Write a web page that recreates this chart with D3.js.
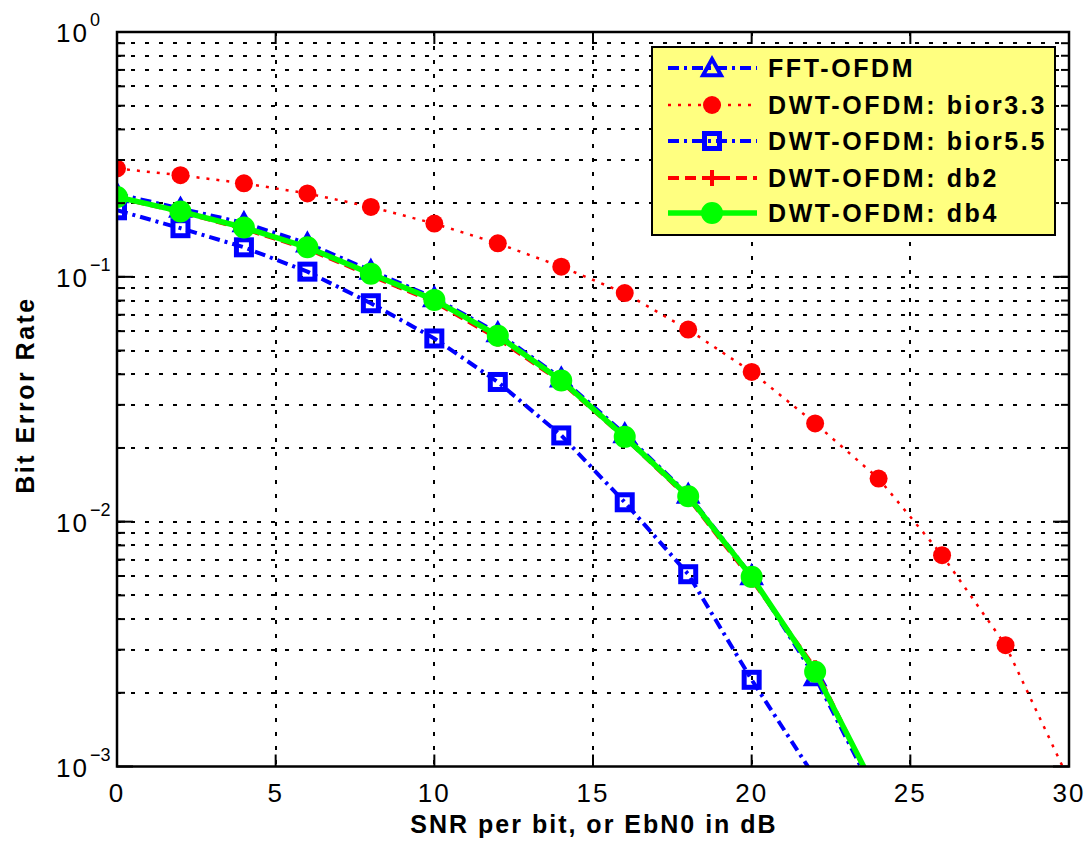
<!DOCTYPE html>
<html>
<head>
<meta charset="utf-8">
<script src="https://cdn.jsdelivr.net/npm/d3@7"></script>
<style>
  html, body { margin: 0; padding: 0; background: #fff; }
  svg { display: block; font-family: "Liberation Sans", Arial, Helvetica, sans-serif; }
</style>
</head>
<body>
<svg id="chart" width="1091" height="841"></svg>
<script>
// ---- data ----
const snr = [0, 2, 4, 6, 8, 10, 12, 14, 16, 18, 20, 22, 24, 26, 28, 30];
const fftOfdm   = [0.218, 0.190, 0.166, 0.137, 0.106, 0.082, 0.059, 0.0385, 0.0228, 0.0129, 0.0060, 0.00232, 0.00072];
const bior33    = [0.277, 0.260, 0.241, 0.219, 0.193, 0.165, 0.137, 0.110, 0.0858, 0.0609, 0.0409, 0.0252, 0.0150, 0.0073, 0.00313, 0.00088];
const bior55    = [0.187, 0.158, 0.132, 0.105, 0.078, 0.056, 0.0372, 0.0225, 0.0120, 0.0061, 0.00226, 0.00090];
const db2       = [0.211, 0.184, 0.157, 0.130, 0.101, 0.079, 0.056, 0.0372, 0.0220, 0.0125, 0.0058, 0.00252, 0.00074];
const db4       = [0.212, 0.185, 0.159, 0.132, 0.103, 0.0805, 0.0575, 0.0377, 0.0222, 0.0127, 0.00595, 0.00244, 0.00076];
const seriesNames = ["FFT-OFDM", "DWT-OFDM: bior3.3", "DWT-OFDM: bior5.5", "DWT-OFDM: db2", "DWT-OFDM: db4"];
const xTicks = [0, 5, 10, 15, 20, 25, 30];
const yDecades = [0, -1, -2, -3];
const xLabel = "SNR per bit, or EbN0 in dB";
const yLabel = "Bit Error Rate";

// ---- styles ----
const styles = [
  { data: fftOfdm, color: "#0000ff", dash: "11,5,3,5", width: 4,   marker: "triangle" },
  { data: bior33,  color: "#ff0000", dash: "3,7",      width: 2.5, marker: "dot" },
  { data: bior55,  color: "#0000ff", dash: "11,5,3,5", width: 4,   marker: "square" },
  { data: db2,     color: "#ff0000", dash: "11,6",     width: 4,   marker: "plus" },
  { data: db4,     color: "#00ff00", dash: null,       width: 5.5, marker: "circle" }
];

const svg = d3.select("#chart");
const L = 117, T = 32, R = 1069, B = 766.5;

const x = d3.scaleLinear().domain([0, 30]).range([L, R]);
const y = d3.scaleLog().domain([1e-3, 1]).range([B, T]);

// clip
svg.append("defs").append("clipPath").attr("id", "clip")
  .append("rect").attr("x", L).attr("y", T).attr("width", R - L).attr("height", B - T);

// grid
const grid = svg.append("g").attr("shape-rendering", "crispEdges");
xTicks.slice(1, -1).forEach(t => {
  grid.append("line").attr("x1", Math.round(x(t))).attr("x2", Math.round(x(t))).attr("y1", T).attr("y2", B)
    .attr("stroke", "#000").attr("stroke-width", 2).attr("stroke-dasharray", "4,10");
});
const minorVals = [];
[-3, -2, -1].forEach(d => { for (let m = 1; m <= 9; m++) { const v = m * Math.pow(10, d); if (v > 1e-3) minorVals.push(v); } });
minorVals.forEach(v => {
  grid.append("line").attr("x1", L).attr("x2", R).attr("y1", Math.round(y(v))).attr("y2", Math.round(y(v)))
    .attr("stroke", "#000").attr("stroke-width", 2).attr("stroke-dasharray", "4,10");
});

// series
const plot = svg.append("g").attr("clip-path", "url(#clip)");
const line = d3.line().x((d, i) => x(snr[i])).y(d => y(d));

function drawMarker(g, type, cx, cy, color) {
  if (type === "triangle") {
    const s = 9;
    g.append("path").attr("d", `M${cx},${cy - s} L${cx + s},${cy + s * 0.8} L${cx - s},${cy + s * 0.8} Z`)
      .attr("fill", "none").attr("stroke", color).attr("stroke-width", 4);
  } else if (type === "dot") {
    g.append("circle").attr("cx", cx).attr("cy", cy).attr("r", 9).attr("fill", color);
  } else if (type === "square") {
    const s = 7.5;
    g.append("rect").attr("x", cx - s).attr("y", cy - s).attr("width", 2 * s).attr("height", 2 * s)
      .attr("fill", "none").attr("stroke", color).attr("stroke-width", 5);
  } else if (type === "plus") {
    const s = 8;
    g.append("path").attr("d", `M${cx - s},${cy} H${cx + s} M${cx},${cy - s} V${cy + s}`)
      .attr("stroke", color).attr("stroke-width", 4);
  } else if (type === "circle") {
    g.append("circle").attr("cx", cx).attr("cy", cy).attr("r", 10).attr("fill", color)
      .attr("stroke", color).attr("stroke-width", 2);
  }
}

styles.forEach(s => {
  const p = plot.append("path").datum(s.data).attr("d", line)
    .attr("fill", "none").attr("stroke", s.color).attr("stroke-width", s.width)
    .attr("stroke-linejoin", "round");
  if (s.dash) p.attr("stroke-dasharray", s.dash);
  const mg = plot.append("g");
  s.data.forEach((v, i) => drawMarker(mg, s.marker, x(snr[i]), y(v), s.color));
});

// axes box
svg.append("rect").attr("x", L).attr("y", T).attr("width", R - L).attr("height", B - T)
  .attr("fill", "none").attr("stroke", "#000").attr("stroke-width", 2.5);

// ticks
const tk = svg.append("g").attr("stroke", "#000").attr("stroke-width", 2);
xTicks.forEach(t => {
  tk.append("line").attr("x1", x(t)).attr("x2", x(t)).attr("y1", B).attr("y2", B - 12);
  tk.append("line").attr("x1", x(t)).attr("x2", x(t)).attr("y1", T).attr("y2", T + 12);
});
yDecades.forEach(d => {
  const v = Math.pow(10, d);
  tk.append("line").attr("x1", L).attr("x2", L + 16).attr("y1", y(v)).attr("y2", y(v));
  tk.append("line").attr("x1", R).attr("x2", R - 16).attr("y1", y(v)).attr("y2", y(v));
});
minorVals.forEach(v => {
  tk.append("line").attr("x1", L).attr("x2", L + 8).attr("y1", y(v)).attr("y2", y(v));
  tk.append("line").attr("x1", R).attr("x2", R - 8).attr("y1", y(v)).attr("y2", y(v));
});

// x tick labels
svg.append("g").selectAll("text").data(xTicks).join("text")
  .attr("x", d => x(d)).attr("y", B + 35).attr("text-anchor", "middle")
  .attr("font-size", 26).attr("letter-spacing", 2).attr("fill", "#000").text(d => d);

// y tick labels
const yl = svg.append("g");
yDecades.forEach(d => {
  const v = Math.pow(10, d);
  yl.append("text").attr("x", 89).attr("y", y(v) + 10).attr("text-anchor", "end")
    .attr("font-size", 26).attr("letter-spacing", 2).attr("fill", "#000").text("10");
  yl.append("text").attr("x", 90).attr("y", y(v) - 6).attr("text-anchor", "start")
    .attr("font-size", 18).attr("fill", "#000").text(d === 0 ? "0" : "\u2212" + (-d));
});

// axis titles
svg.append("text").attr("x", 594).attr("y", 833).attr("text-anchor", "middle")
  .attr("font-size", 25).attr("letter-spacing", 2).attr("font-weight", "bold").text(xLabel);
svg.append("text").attr("transform", `translate(34, 395) rotate(-90)`)
  .attr("text-anchor", "middle").attr("font-size", 25).attr("letter-spacing", 2.5)
  .attr("font-weight", "bold").text(yLabel);

// legend
const lg = svg.append("g");
const lx = 652, ly = 47, lw = 403, lh = 188;
lg.append("rect").attr("x", lx).attr("y", ly).attr("width", lw).attr("height", lh)
  .attr("fill", "#ffff80").attr("stroke", "#000").attr("stroke-width", 2);
const rowY = [68, 105, 141, 178, 213];
styles.forEach((s, i) => {
  const yy = rowY[i];
  const p = lg.append("line").attr("x1", 668).attr("x2", 757).attr("y1", yy).attr("y2", yy)
    .attr("stroke", s.color).attr("stroke-width", s.width);
  if (s.dash) p.attr("stroke-dasharray", s.dash);
  drawMarker(lg, s.marker, 712, yy, s.color);
  lg.append("text").attr("x", 768).attr("y", yy + 9).attr("font-size", 25)
    .attr("letter-spacing", 2.6).attr("font-weight", "bold").attr("fill", "#000").text(seriesNames[i]);
});
</script>
</body>
</html>
